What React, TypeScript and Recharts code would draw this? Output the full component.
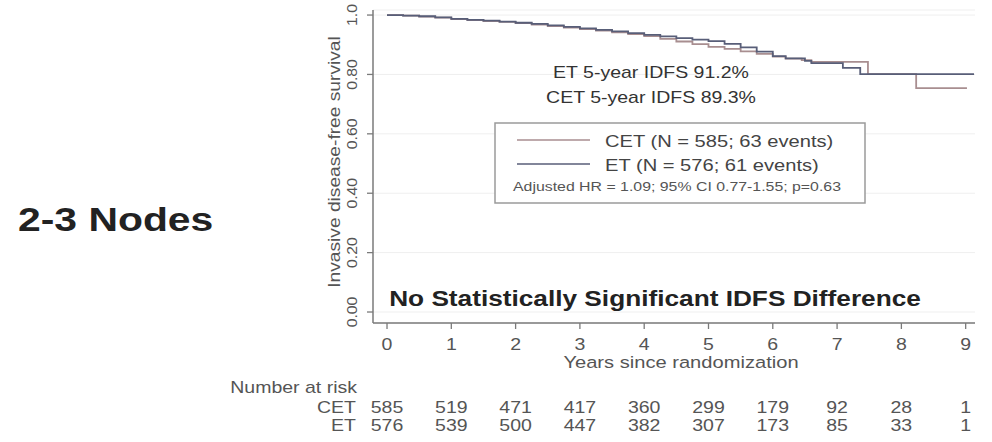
import React from "react";
import { LineChart, Line, XAxis, YAxis, CartesianGrid, Customized } from "recharts";

// Kaplan-Meier estimates, invasive disease-free survival, 2-3 positive nodes
const cetTimes = [0, 0.25, 0.5, 0.75, 1.0, 1.25, 1.5, 1.75, 2.0, 2.25, 2.5, 2.75, 3.0, 3.25, 3.5, 3.75, 4.0, 4.25, 4.5, 4.75, 5.0, 5.25, 5.5, 5.75, 6.0, 6.2, 6.45, 6.6, 7.48, 8.23, 9.02];
const cetSurv = [1.0, 0.998, 0.995, 0.991, 0.986, 0.983, 0.98, 0.977, 0.973, 0.968, 0.963, 0.958, 0.953, 0.948, 0.942, 0.936, 0.929, 0.92, 0.911, 0.902, 0.893, 0.886, 0.878, 0.869, 0.86, 0.853, 0.848, 0.842, 0.801, 0.754, 0.754];

const etTimes = [0, 0.25, 0.5, 0.75, 1.0, 1.25, 1.5, 1.75, 2.0, 2.25, 2.5, 2.75, 3.0, 3.25, 3.5, 3.75, 4.0, 4.25, 4.5, 4.75, 5.0, 5.25, 5.5, 5.75, 6.0, 6.2, 6.5, 6.6, 7.09, 7.36, 9.13];
const etSurv = [1.0, 0.998, 0.996, 0.992, 0.987, 0.984, 0.981, 0.978, 0.974, 0.97, 0.965, 0.96, 0.955, 0.95, 0.945, 0.939, 0.933, 0.928, 0.922, 0.917, 0.912, 0.903, 0.891, 0.877, 0.862, 0.854, 0.846, 0.838, 0.822, 0.801, 0.801];

const yearTicks = [0, 1, 2, 3, 4, 5, 6, 7, 8, 9];
const survTicks = [0, 0.2, 0.4, 0.6, 0.8, 1.0];
const survTickLabels = ["0.00", "0.20", "0.40", "0.60", "0.80", "1.0"];

const riskCET = [585, 519, 471, 417, 360, 299, 179, 92, 28, 1];
const riskET = [576, 539, 500, 447, 382, 307, 173, 85, 33, 1];

const legendCET = "CET (N = 585; 63 events)";
const legendET = "ET (N = 576; 61 events)";
const legendHR = "Adjusted HR = 1.09; 95% CI 0.77-1.55; p=0.63";
const noteET = "ET 5-year IDFS 91.2%";
const noteCET = "CET 5-year IDFS 89.3%";

const cetData = cetTimes.map((t, i) => ({ t, s: cetSurv[i] }));
const etData = etTimes.map((t, i) => ({ t, s: etSurv[i] }));

// layout
const W = 992;
const H = 442;
const LEFT = 373;
const TOP = 10;
const RIGHT = 975;
const BOTTOM = 323;
const X_DOMAIN: [number, number] = [-0.218, 9.145];
const Y_DOMAIN: [number, number] = [-0.037, 1.017];

const FONT = "'Liberation Sans', Arial, Helvetica, sans-serif";
const AXIS_COLOR = "#7a7a7a";
const TEXT_GRAY = "#555";
const CET_COLOR = "#a88e90";
const ET_COLOR = "#585e78";
// glyphs are drawn a little wider than the stock Arial metrics
const SX = 1.22;

const xPx = (t: number) =>
  LEFT + ((t - X_DOMAIN[0]) / (X_DOMAIN[1] - X_DOMAIN[0])) * (RIGHT - LEFT);

type TProps = {
  x: number;
  y: number;
  size: number;
  anchor?: "start" | "middle" | "end";
  weight?: string;
  fill?: string;
  rotate?: number;
  sx?: number;
  baseline?: string;
  children: React.ReactNode;
};

const T = ({ x, y, size, anchor = "start", weight = "normal", fill = TEXT_GRAY, rotate = 0, sx = SX, baseline, children }: TProps) => (
  <text
    x={0}
    y={0}
    transform={`translate(${x},${y}) rotate(${rotate}) scale(${sx},1)`}
    textAnchor={anchor}
    fontSize={size}
    fontWeight={weight}
    fill={fill}
    fontFamily={FONT}
    dominantBaseline={baseline}
  >
    {children}
  </text>
);

const YTick = (props: any) => {
  const { y, payload } = props;
  const idx = survTicks.indexOf(payload.value);
  return (
    <T x={LEFT - 21} y={y} size={15} anchor="middle" rotate={-90} sx={1.05} baseline="central">
      {idx >= 0 ? survTickLabels[idx] : payload.value}
    </T>
  );
};

const XTick = (props: any) => {
  const { x, payload } = props;
  return (
    <T x={x} y={BOTTOM + 27} size={16} anchor="middle">
      {payload.value}
    </T>
  );
};

const Overlay = () => (
  <g>
    {/* y-axis title */}
    <T x={335} y={162} size={16} anchor="middle" rotate={-90} baseline="central" sx={1.2}>
      Invasive disease-free survival
    </T>
    {/* x-axis title */}
    <T x={681} y={368} size={16.5} anchor="middle">
      Years since randomization
    </T>

    {/* 5-year estimates */}
    <T x={651} y={78} size={16} anchor="middle" fill="#333">
      {noteET}
    </T>
    <T x={651} y={103} size={16} anchor="middle" fill="#333">
      {noteCET}
    </T>

    {/* legend box */}
    <rect x={495} y={123} width={370} height={80} fill="#fff" stroke="#9a9a9a" strokeWidth={1.5} />
    <line x1={517} x2={590} y1={140} y2={140} stroke={CET_COLOR} strokeWidth={1.6} />
    <T x={605} y={147} size={16.5} fill="#444">
      {legendCET}
    </T>
    <line x1={517} x2={590} y1={164} y2={164} stroke={ET_COLOR} strokeWidth={1.6} />
    <T x={605} y={171} size={16.5} fill="#444">
      {legendET}
    </T>
    <T x={513} y={191} size={13} fill="#555">
      {legendHR}
    </T>

    {/* conclusion */}
    <T x={655} y={306} size={21.5} anchor="middle" weight="bold" fill="#222">
      No Statistically Significant IDFS Difference
    </T>

    {/* subgroup title */}
    <T x={18} y={231} size={33.5} weight="bold" fill="#222">
      2-3 Nodes
    </T>

    {/* number at risk table */}
    <T x={357} y={393} size={16} anchor="end">
      Number at risk
    </T>
    <T x={356} y={413} size={16} anchor="end">
      CET
    </T>
    <T x={356} y={431} size={16} anchor="end">
      ET
    </T>
    {yearTicks.map((yr, i) => (
      <T key={`c${yr}`} x={xPx(yr)} y={413} size={16} anchor="middle">
        {riskCET[i]}
      </T>
    ))}
    {yearTicks.map((yr, i) => (
      <T key={`e${yr}`} x={xPx(yr)} y={431} size={16} anchor="middle">
        {riskET[i]}
      </T>
    ))}
  </g>
);

export default function App() {
  return (
    <div
      style={{
        position: "fixed",
        left: 0,
        top: 0,
        width: W,
        height: H,
        background: "#fff",
        fontFamily: FONT,
      }}
    >
      <LineChart
        width={W}
        height={H}
        margin={{ left: 0, top: TOP, right: W - RIGHT, bottom: 0 }}
      >
        <CartesianGrid horizontal vertical={false} stroke="#efefef" strokeWidth={1} />
        <XAxis
          dataKey="t"
          type="number"
          domain={X_DOMAIN}
          ticks={yearTicks}
          allowDataOverflow
          height={H - BOTTOM}
          axisLine={{ stroke: AXIS_COLOR, strokeWidth: 1.5 }}
          tickLine={{ stroke: AXIS_COLOR, strokeWidth: 1.3 }}
          tickSize={6}
          tick={<XTick />}
        />
        <YAxis
          type="number"
          domain={Y_DOMAIN}
          ticks={survTicks}
          allowDataOverflow
          width={LEFT}
          axisLine={{ stroke: AXIS_COLOR, strokeWidth: 1.5 }}
          tickLine={{ stroke: AXIS_COLOR, strokeWidth: 1.3 }}
          tickSize={6}
          tick={<YTick />}
        />
        <Line
          data={cetData}
          dataKey="s"
          type="stepAfter"
          stroke={CET_COLOR}
          strokeWidth={1.8}
          dot={false}
          activeDot={false}
          isAnimationActive={false}
        />
        <Line
          data={etData}
          dataKey="s"
          type="stepAfter"
          stroke={ET_COLOR}
          strokeWidth={1.8}
          dot={false}
          activeDot={false}
          isAnimationActive={false}
        />
        <Customized component={Overlay} />
      </LineChart>
    </div>
  );
}
